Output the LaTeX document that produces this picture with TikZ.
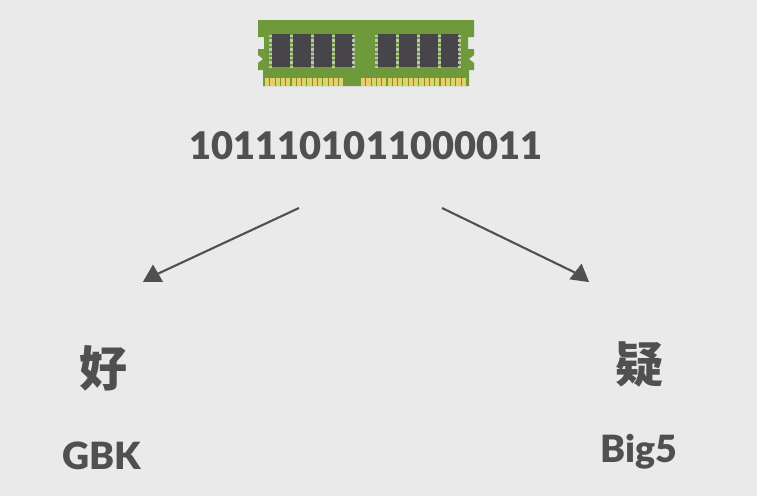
\documentclass[tikz,border=0pt]{standalone}
\usepackage{fontspec}
\setmainfont{Lato}[BoldFont={Lato Black}]
\newfontfamily\cjkfont{Noto Sans CJK TC}
\usepackage{tikz}
\usetikzlibrary{shapes.geometric,positioning}
\definecolor{bgcol}{HTML}{EAEAEA}
\definecolor{inkcol}{HTML}{505050}
\definecolor{boardcol}{HTML}{6F9A3C}
\definecolor{chipcol}{HTML}{48454A}
\definecolor{pincol}{HTML}{C0C6B4}
\definecolor{goldcol}{HTML}{E6CE66}
\tikzset{
    bits/.style = {text=inkcol, font=\fontsize{38}{38}\selectfont\bfseries, inner sep=0pt},
    hanzi/.style = {text=inkcol, font=\fontsize{48}{48}\selectfont\cjkfont\bfseries, inner sep=0pt},
    codename/.style = {text=inkcol, font=\fontsize{37.5}{37.5}\selectfont\bfseries, inner sep=0pt},
    tipmark/.style = {regular polygon, regular polygon sides=3, fill=inkcol, minimum size=23pt, inner sep=0pt, outer sep=0pt},
    thinarrow/.style = {draw=inkcol, line width=2.1pt}
}

\begin{document}
\begin{tikzpicture}[x=1pt,y=-1pt]
  \useasboundingbox[fill=bgcol] (0,0) rectangle (757,496);

  % memory stick
  \fill[boardcol] (258,20) -- (474,20) -- (474,37) -- (468,37) -- (468,49) -- (474,49) -- (474,55)
    -- (469,59) -- (474,63) -- (474,70) -- (469,70) -- (469,86) -- (263,86) -- (263,70)
    -- (258,70) -- (258,63) -- (263,59) -- (258,55) -- (258,49) -- (264,49) -- (264,37) -- (258,37) -- cycle;
  \foreach \x in {272,293,314,335,378,399,420,441}
    \fill[chipcol] (\x,34) rectangle ++(17.5,33);
  \foreach \x in {269,290,311,332,352,375,396,417,438,458}
    \foreach \y in {35,39.4,...,66}
      \fill[pincol] (\x,\y) rectangle ++(3.3,2.4);
  \foreach \x in {265,270.3,...,343}
    \fill[goldcol] (\x,78) rectangle ++(4.2,8);
  \foreach \x in {361,366.3,...,465}
    \fill[goldcol] (\x,78) rectangle ++(4.2,8);

  \node[bits] (code) at (366,146) {1011101011000011};
  \node[hanzi] (hao) at (103,368) {好};
  \node[hanzi] (yi) at (639,364) {疑};
  \node[codename] (gbk) at (102,456) {GBK};
  \node[codename] (big) at (639,452) {Big5};

  \coordinate (startl) at (299,208);
  \coordinate (startr) at (442,208);
  \node[tipmark] (tipl) at (153,276) {};
  \node[tipmark, rotate=-8] (tipr) at (580,275) {};

  \path[thinarrow] (startl) edge (tipl);
  \path[thinarrow] (startr) edge (tipr);
\end{tikzpicture}
\end{document}
